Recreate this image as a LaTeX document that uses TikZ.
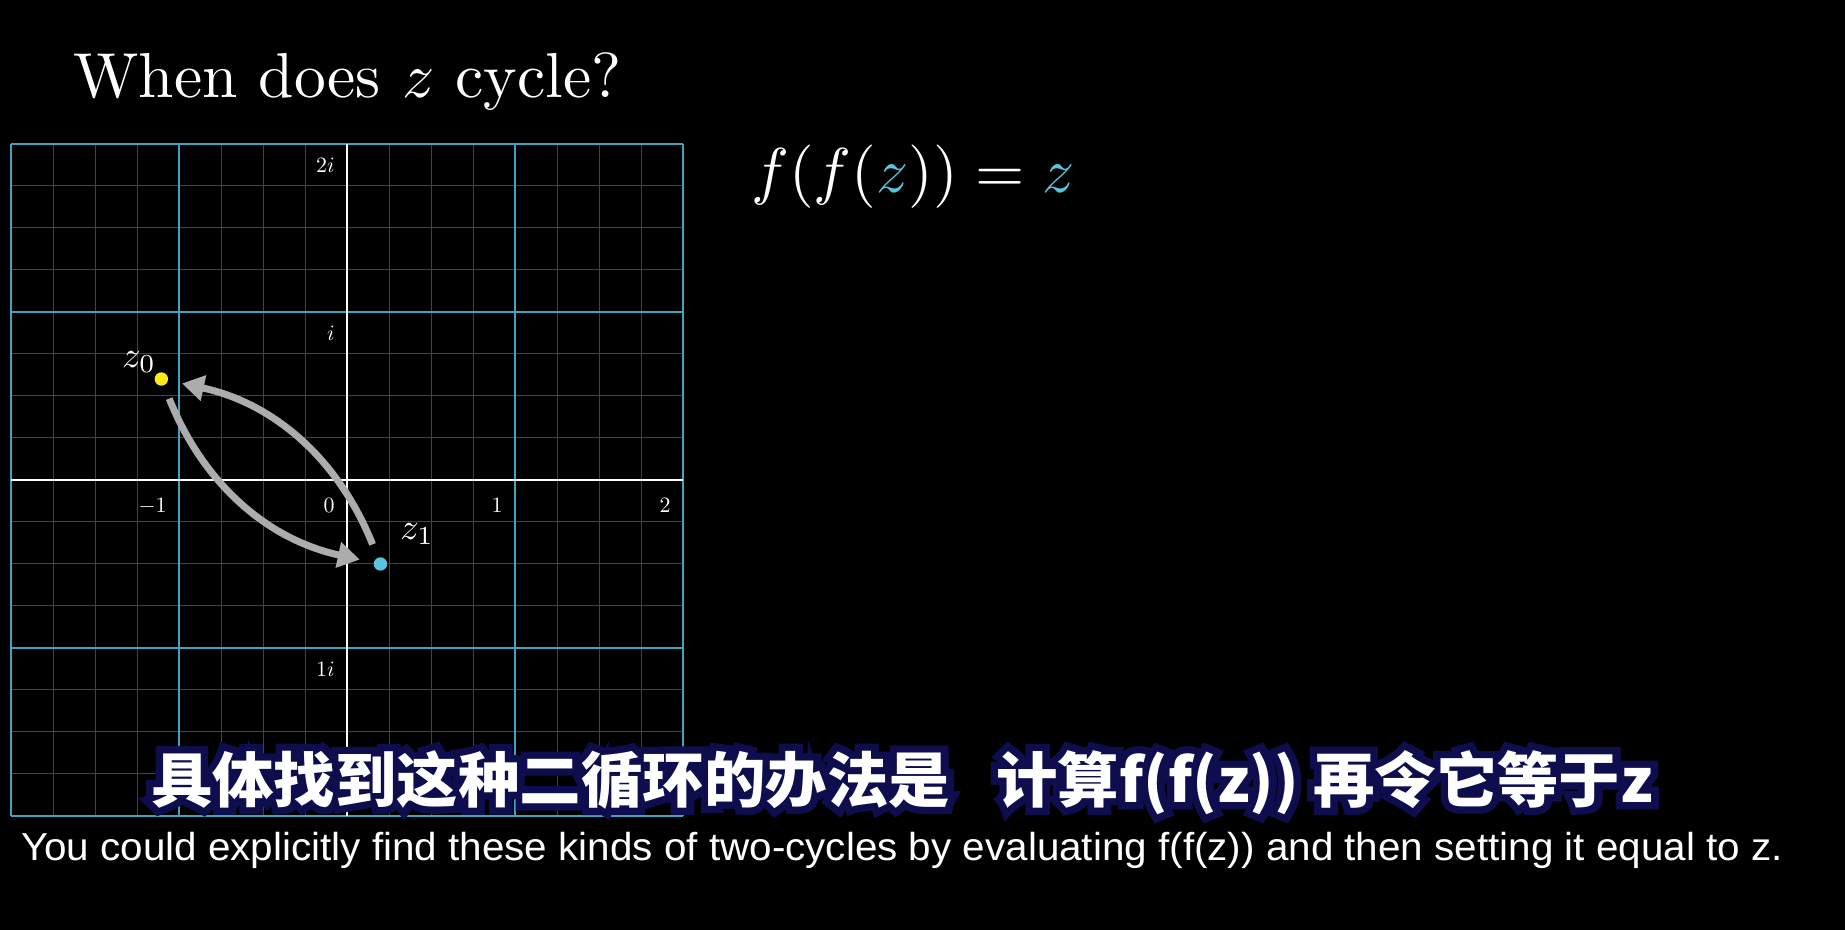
\documentclass[tikz,border=0pt]{standalone}
\usepackage{fontspec}
\usepackage{graphicx}
\usetikzlibrary{arrows.meta,positioning}
\newfontfamily\cjkfont{Noto Sans CJK SC}
\newfontfamily\capfont{Liberation Sans}
\definecolor{zblue}{HTML}{58C4DD}
\definecolor{zyellow}{HTML}{FFE81A}
\definecolor{gridmajor}{HTML}{3FA3BF}
\definecolor{gridminor}{HTML}{1F505C}
\definecolor{hopgray}{HTML}{ACACAC}
\definecolor{navy}{HTML}{0E0E4E}
\newcommand\outlined[1]{\rlap{\color{navy}\addfontfeatures{FakeBold=24}#1}#1}

\begin{document}
\begin{tikzpicture}[x=84pt,y=84pt,
  minorline/.style={draw=gridminor,line width=0.5pt},
  majorline/.style={draw=gridmajor,line width=1pt},
  axisline/.style={draw=white,line width=1.2pt},
  tick/.style={text=white,inner sep=0pt,font=\fontsize{11}{13}\selectfont,anchor=north east},
  dot/.style={circle,inner sep=0pt,minimum size=6.7pt},
  lbl/.style={text=white,inner sep=0pt},
  hop/.style={draw=hopgray,line width=3.5pt,-{Triangle[length=11pt,width=12.5pt]},shorten <=7pt,shorten >=7pt},
  title/.style={text=white,inner sep=0pt},
  cnsub/.style={text=white,inner sep=0pt,font=\cjkfont\bfseries\fontsize{30}{36}\selectfont},
  ensub/.style={text=white,inner sep=0pt,font=\capfont\fontsize{19.5}{24}\selectfont}]
\fill[black] (-2.0655,-2.6786) rectangle (8.9167,2.8571);

% complex plane
\draw[minorline] (-2,-2) grid[step=0.25] (2,2);
\draw[majorline] (-2,-2) grid[step=1] (2,2);
\draw[axisline] (-2,0) -- (2,0);
\draw[axisline] (0,-2) -- (0,2);
\foreach \x/\t in {-1/-1,0/0,1/1,2/2}
  \node[tick] (xl\x) at (\x-0.0714,-0.107) {$\t$};
\foreach \y/\t in {2/2i,1/i,-1/1i}
  \node[tick] (yl\y) at (-0.0714,\y-0.0833) {$\t$};

% the two-cycle
\node[dot,fill=zyellow] (z0) at (-1.105,0.601) {};
\node[dot,fill=zblue] (z1) at (0.199,-0.5) {};
\node[lbl] (z0lbl) at (-1.238,0.702) {\scalebox{1.85}{$z_0$}};
\node[lbl] (z1lbl) at (0.417,-0.321) {\scalebox{1.85}{$z_1$}};
\draw[hop] (z0) to[bend right=28] (z1);
\draw[hop] (z1) to[bend right=28] (z0);

\node[title,anchor=base west] (title) at (-1.631,2.274) {\resizebox{274pt}{!}{When does $z$ cycle?}};
\node[title,anchor=base west] (eqn) at (2.405,1.714) {\resizebox{161.5pt}{!}{$f(f(\textcolor{zblue}{z}))=\textcolor{zblue}{z}$}};

% subtitles
\node[cnsub,anchor=base] (cnsub) at (3.304,-1.917) {\resizebox{751pt}{\height}{\outlined{具体找到这种二循环的办法是\hspace{0.75em}计算f(f(z)) 再令它等于z}}};
\node[ensub,anchor=base] (ensub) at (3.304,-2.262) {\resizebox{881pt}{\height}{You could explicitly find these kinds of two-cycles by evaluating f(f(z)) and then setting it equal to z.}};
\end{tikzpicture}
\end{document}
